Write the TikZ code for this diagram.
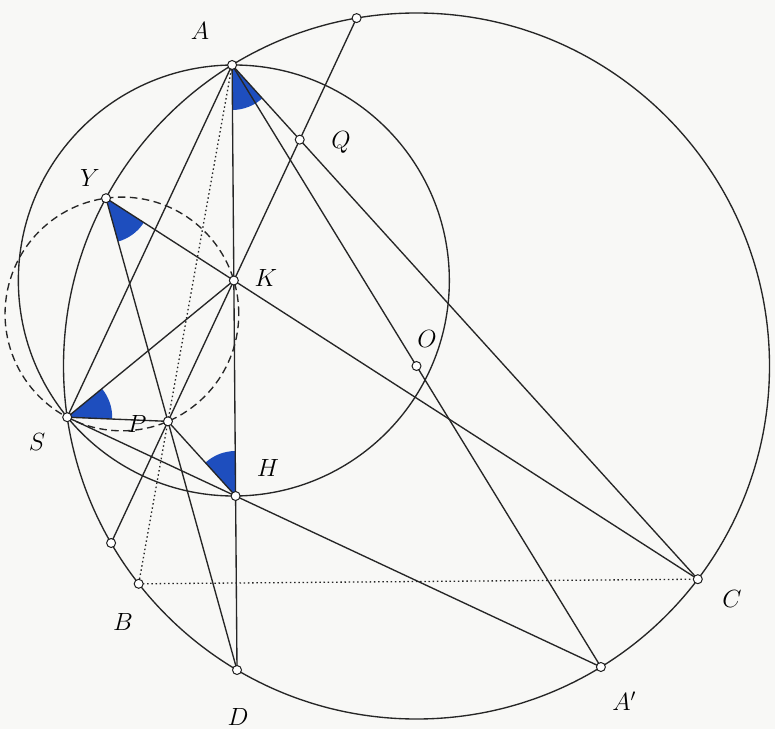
\documentclass[tikz,border=0pt]{standalone}
\usetikzlibrary{angles,calc}
\definecolor{wedgeblue}{RGB}{30,78,190}
\definecolor{paper}{RGB}{248,248,246}
\begin{document}
\begin{tikzpicture}[x=1pt,y=1pt,
  geo/.style={line width=1.35pt, draw=black!85},
  dotline/.style={geo, line width=1.3pt, dash pattern=on 1.5pt off 2.7pt},
  dashcirc/.style={geo, dash pattern=on 7.5pt off 4.5pt},
  pt/.style={circle, draw=black!88, fill=white, line width=1pt, minimum size=9pt, inner sep=0pt},
  lab/.style={inner sep=0pt, font=\fontsize{25}{30}\selectfont},
  wedge/.style={fill=wedgeblue, draw=none, angle radius=45pt}
]
\useasboundingbox (0,0) rectangle (775,729);
\fill[paper] (0,0) rectangle (775,729);
% geometry
\coordinate (O) at (416.5,363.0);
\coordinate (A) at (232.1,664.0);
\coordinate (Ap) at (600.9,62.0);
\coordinate (B) at (138.7,145.2);
\coordinate (C) at (697.8,149.8);
\coordinate (D) at (237.0,59.0);
\coordinate (H) at (235.6,233.0);
\coordinate (K) at (233.85,448.5);
\coordinate (S) at (67.2,311.8);
\coordinate (Y) at (106.0,530.8);
\coordinate (P) at (167.96,307.65);
\coordinate (Q) at (299.74,589.35);
\coordinate (T) at (356.6,710.9);
\coordinate (X) at (111.1,186.0);
\coordinate (Z) at (121.9,415.04);
% angle marks
\pic[wedge] {angle=D--A--C};
\pic[wedge] {angle=D--Y--K};
\pic[wedge] {angle=P--S--K};
\pic[wedge] {angle=A--H--P};
% circles
\draw[geo] (O) circle[radius=353];
\draw[geo] (K) circle[radius=215.5];
\draw[dashcirc] (Z) circle[radius=116.85];
% segments
\draw[geo] (A) -- (S);
\draw[dotline] (A) -- (B);
\draw[geo] (A) -- (D);
\draw[geo] (A) -- (Ap);
\draw[geo] (A) -- (C);
\draw[geo] (T) -- (X);
\draw[geo] (Y) -- (C);
\draw[geo] (Y) -- (D);
\draw[geo] (S) -- (K);
\draw[geo] (S) -- (P);
\draw[geo] (S) -- (Ap);
\draw[geo] (P) -- (H);
\draw[dotline] (B) -- (C);
% points
\foreach \p in {O,A,Ap,B,C,D,H,K,S,Y,P,Q,T,X} \node[pt] (n\p) at (\p) {};
% labels
\node[lab] (lA) at (200,698) {$A$};
\node[lab] (lQ) at (341,587) {$Q$};
\node[lab] (lY) at (90,551) {$Y$};
\node[lab] (lK) at (266,451) {$K$};
\node[lab] (lO) at (427,390) {$O$};
\node[lab] (lS) at (37,287) {$S$};
\node[lab] (lP) at (137,305) {$P$};
\node[lab] (lH) at (268,261) {$H$};
\node[lab] (lB) at (123,107) {$B$};
\node[lab] (lC) at (732,130) {$C$};
\node[lab] (lD) at (238,12) {$D$};
\node[lab] (lAp) at (624,28) {$A'$};
\end{tikzpicture}
\end{document}
